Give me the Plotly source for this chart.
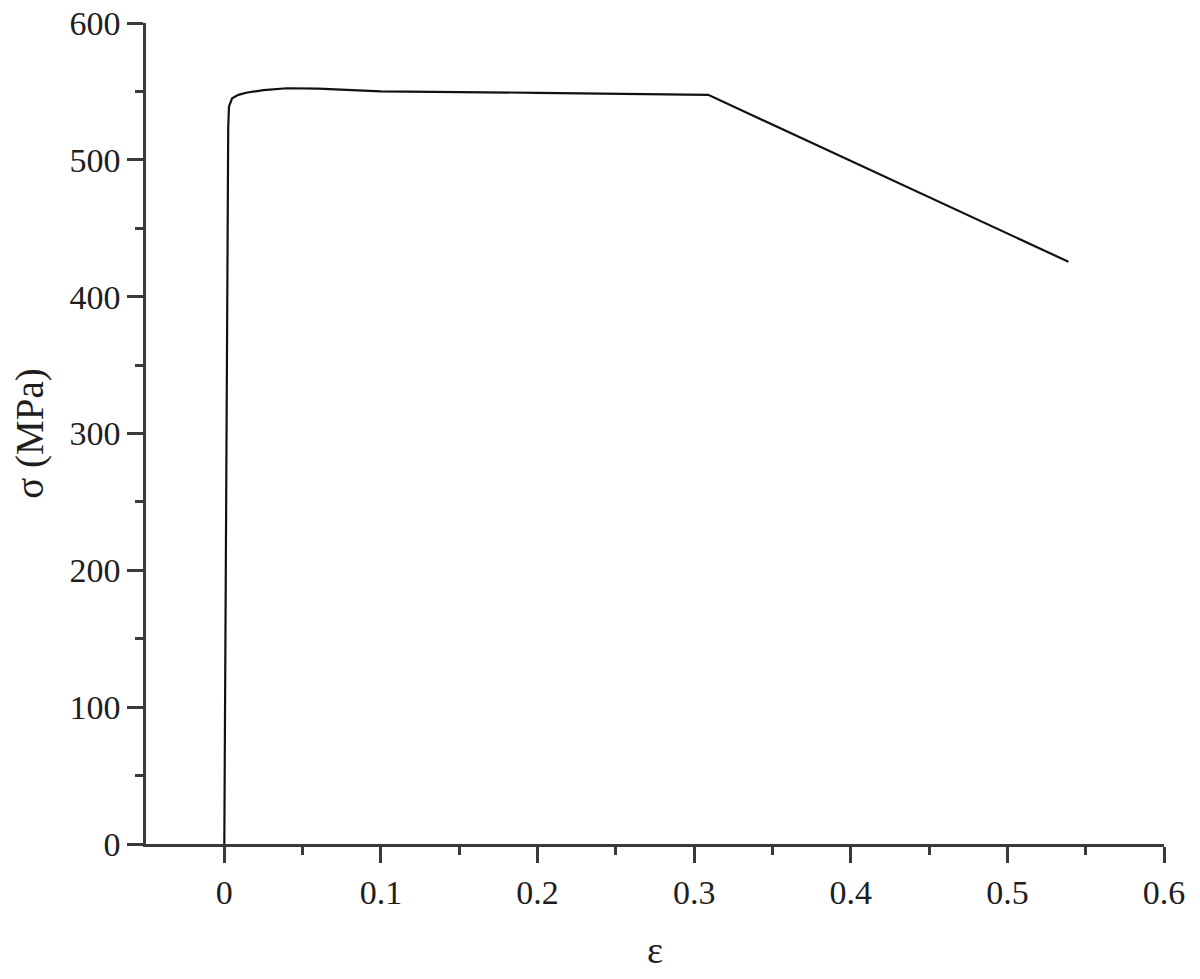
import plotly.graph_objects as go

strain = [0.0, 0.0022, 0.0025, 0.003, 0.005, 0.009, 0.014, 0.025, 0.04, 0.06, 0.1, 0.2, 0.309, 0.539]
stress = [0.0, 470.0, 524.0, 539.0, 545.0, 547.5, 549.0, 551.0, 552.3, 552.0, 550.0, 549.0, 547.5, 425.5]

x_ticks = [0, 0.1, 0.2, 0.3, 0.4, 0.5, 0.6]
x_minor = [0.05, 0.15, 0.25, 0.35, 0.45, 0.55]
y_ticks = [0, 100, 200, 300, 400, 500, 600]
y_minor = [50, 150, 250, 350, 450, 550]

FONT = "Liberation Serif, Times New Roman, serif"
AX = "#3a3a3a"
TXT = "#1e1e1e"

fig = go.Figure()
fig.add_trace(go.Scatter(x=strain, y=stress, mode="lines",
                         line=dict(color="#111111", width=2.2),
                         showlegend=False, hoverinfo="skip"))

fig.update_layout(
    width=1184, height=963,
    margin=dict(l=138, r=28, t=15, b=127),
    paper_bgcolor="white", plot_bgcolor="white",
    font=dict(family=FONT, color=TXT, size=34),
    showlegend=False,
)
fig.update_xaxes(
    automargin=False, ticklabeloverflow="allow",
    range=[-0.05, 0.6], tickvals=x_ticks, ticktext=["0", "0.1", "0.2", "0.3", "0.4", "0.5", "0.6"],
    showline=True, linecolor=AX, linewidth=2.5, mirror=False,
    ticks="outside", ticklen=16, tickwidth=2.5, tickcolor=AX,
    minor=dict(tickvals=x_minor, ticks="outside", ticklen=8, tickwidth=2.5, tickcolor=AX, showgrid=False),
    showgrid=False, zeroline=False,
    tickfont=dict(family=FONT, size=34, color=TXT),
    title=dict(text="ε", font=dict(family=FONT, size=38, color=TXT), standoff=30),
)
fig.update_yaxes(
    automargin=False, ticklabeloverflow="allow",
    range=[0, 600], tickvals=y_ticks,
    showline=True, linecolor=AX, linewidth=2.5, mirror=False,
    ticks="outside", ticklen=16, tickwidth=2.5, tickcolor=AX,
    minor=dict(tickvals=y_minor, ticks="outside", ticklen=8, tickwidth=2.5, tickcolor=AX, showgrid=False),
    showgrid=False, zeroline=False,
    tickfont=dict(family=FONT, size=34, color=TXT),
    title=dict(text="σ (MPa)", font=dict(family=FONT, size=39, color=TXT), standoff=14),
)

fig.write_html("out.html")
